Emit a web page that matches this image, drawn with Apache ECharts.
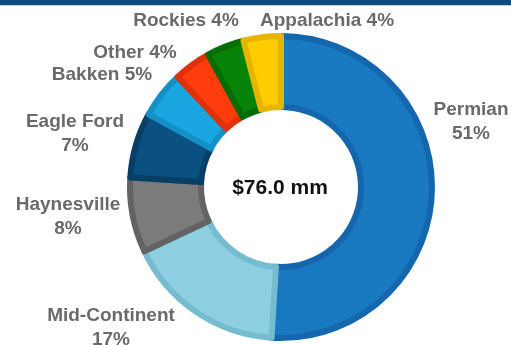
<!DOCTYPE html>
<html>
<head>
<meta charset="utf-8">
<script src="https://cdn.jsdelivr.net/npm/echarts@6/dist/echarts.min.js"></script>
<style>
  html, body { margin: 0; padding: 0; background: #ffffff; }
  #chart { width: 511px; height: 345px; }
</style>
</head>
<body>
<div id="chart"></div>
<script>
// Basin split of the total, in percent, clockwise from 12 o'clock
const basins = ['Permian', 'Mid-Continent', 'Haynesville', 'Eagle Ford', 'Bakken', 'Other', 'Rockies', 'Appalachia'];
const shares = [51, 17, 8, 7, 5, 4, 4, 4];
const totalLabel = '$76.0 mm';

// Slice fill and its darker rim
const fills = ['#1878c0', '#8dcfe0', '#7b7b7b', '#0a5080', '#1aa6e0', '#ff3c0c', '#078407', '#ffcc00'];
const rims  = ['#1567ad', '#76bcd0', '#636363', '#073f67', '#1490c8', '#e2300a', '#066c06', '#e6b500'];

// Where each label block sits (text centre, px)
const labelSpots = {
  'Permian':       { x: 471, y: 122, twoLine: true },
  'Mid-Continent': { x: 111, y: 328, twoLine: true },
  'Haynesville':   { x: 68,  y: 217, twoLine: true },
  'Eagle Ford':    { x: 75,  y: 134, twoLine: true },
  'Bakken':        { x: 102, y: 75,  twoLine: false },
  'Other':         { x: 135, y: 53,  twoLine: false },
  'Rockies':       { x: 186, y: 21,  twoLine: false },
  'Appalachia':    { x: 327, y: 21,  twoLine: false }
};

const chart = echarts.init(document.getElementById('chart'), null, { renderer: 'canvas' });

const data = basins.map((name, i) => ({
  name: name,
  value: shares[i],
  itemStyle: { color: fills[i], borderColor: rims[i], borderWidth: 6 }
}));

chart.setOption({
  animation: false,
  backgroundColor: '#ffffff',
  graphic: [
    { type: 'rect', shape: { x: 0, y: 0, width: 511, height: 5 }, style: { fill: '#0b4d80' }, z: 10 },
    { type: 'rect', shape: { x: 0, y: 5, width: 511, height: 1 }, style: { fill: '#c9ced4' }, z: 10 },
    {
      type: 'text', x: 280, y: 188, z: 10,
      style: {
        text: totalLabel, fill: '#111111',
        font: 'bold 21px "Liberation Sans", Arial, sans-serif',
        align: 'center', verticalAlign: 'middle'
      }
    }
  ],
  series: [{
    type: 'pie',
    center: [281, 187],
    radius: [80, 151],
    startAngle: 90,
    clockwise: true,
    avoidLabelOverlap: false,
    label: {
      show: true,
      position: 'outside',
      formatter: p => labelSpots[p.name].twoLine ? p.name + '\n' + p.value + '%' : p.name + ' ' + p.value + '%',
      color: '#6a6a6a',
      fontFamily: '"Liberation Sans", Arial, sans-serif',
      fontWeight: 'bold',
      fontSize: 19,
      lineHeight: 24,
      align: 'center'
    },
    labelLine: { show: false },
    labelLayout: function (params) {
      const spot = labelSpots[basins[params.dataIndex]];
      return { x: spot.x, y: spot.y, align: 'center', verticalAlign: 'middle' };
    },
    emphasis: { disabled: true },
    data: data
  }]
});
</script>
</body>
</html>
